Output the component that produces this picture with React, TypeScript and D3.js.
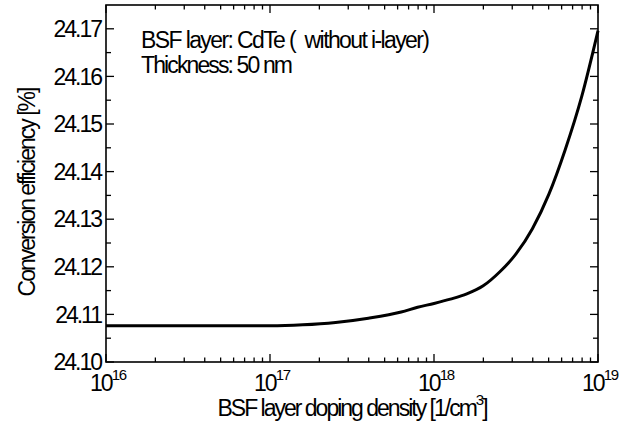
import React from 'react';
import * as d3 from 'd3';

const logDensity = [16, 16.5, 17, 17.2, 17.4, 17.6, 17.8, 17.9, 18.0, 18.1, 18.2, 18.3, 18.4, 18.5, 18.6, 18.7, 18.8, 18.9, 19.0];
const efficiency = [24.1076, 24.1076, 24.1076, 24.1078, 24.1083, 24.1092, 24.1105, 24.1115, 24.1123, 24.1132, 24.1143, 24.1160, 24.1189, 24.1227, 24.1280, 24.1352, 24.1446, 24.1557, 24.1696];
const yTicks = [24.10, 24.11, 24.12, 24.13, 24.14, 24.15, 24.16, 24.17];
const yMinor = [24.105, 24.115, 24.125, 24.135, 24.145, 24.155, 24.165];
const xDecades = [16, 17, 18, 19];
const annotation = ['BSF layer: CdTe (  without i-layer)', 'Thickness: 50 nm'];
const annotationWidths = [289, 152];

const W = 627, H = 427;
const L = 106, R = 598, T = 5, B = 362;
const FONT = "'Liberation Sans', Arial, sans-serif";

export default function App() {
  const x = d3.scaleLog().domain([1e16, 1e19]).range([L, R]);
  const y = d3.scaleLinear().domain([24.10, 24.175]).range([B, T]);
  const pts = logDensity.map((l, i) => [x(Math.pow(10, l)), y(efficiency[i])] as [number, number]);
  const path = d3.line().curve(d3.curveMonotoneX)(pts) || '';

  const xMinor: number[] = [];
  for (let d = 16; d < 19; d++) for (let m = 2; m <= 9; m++) xMinor.push(m * Math.pow(10, d));

  return (
    <svg width={W} height={H} style={{ position: 'absolute', left: 0, top: 0, background: '#fff' }} fontFamily={FONT}>
      <rect x={0} y={0} width={W} height={H} fill="#fff" />
      <g stroke="#000" strokeWidth={1.3}>
        {yTicks.map((t) => (
          <g key={'y' + t}>
            <line x1={L} x2={L + 8} y1={y(t)} y2={y(t)} />
            <line x1={R} x2={R - 8} y1={y(t)} y2={y(t)} />
          </g>
        ))}
        {yMinor.map((t) => (
          <g key={'ym' + t}>
            <line x1={L} x2={L + 5} y1={y(t)} y2={y(t)} />
            <line x1={R} x2={R - 5} y1={y(t)} y2={y(t)} />
          </g>
        ))}
        {xDecades.map((d) => (
          <g key={'x' + d}>
            <line x1={x(Math.pow(10, d))} x2={x(Math.pow(10, d))} y1={B} y2={B - 8} />
            <line x1={x(Math.pow(10, d))} x2={x(Math.pow(10, d))} y1={T} y2={T + 8} />
          </g>
        ))}
        {xMinor.map((v) => (
          <g key={'xm' + v}>
            <line x1={x(v)} x2={x(v)} y1={B} y2={B - 4.5} />
            <line x1={x(v)} x2={x(v)} y1={T} y2={T + 4.5} />
          </g>
        ))}
      </g>
      <rect x={L} y={T} width={R - L} height={B - T} fill="none" stroke="#000" strokeWidth={1.6} />
      <path d={path} fill="none" stroke="#000" strokeWidth={3} strokeLinejoin="round" />
      {yTicks.map((t) => (
        <text key={'yl' + t} x={101} y={y(t)} dy="0.36em" textAnchor="end" fontSize={23} letterSpacing={-2}>
          {t.toFixed(2)}
        </text>
      ))}
      {xDecades.map((d) => (
        <text key={'xl' + d} x={x(Math.pow(10, d)) + 2} y={391} textAnchor="middle" fontSize={23} letterSpacing={-2}>
          10<tspan fontSize={15} dy={-11} letterSpacing={-1.2}>{d}</tspan>
        </text>
      ))}
      <text x={(L + R) / 2} y={416} textAnchor="middle" fontSize={23} letterSpacing={-2}>
        BSF layer doping density [1/cm<tspan fontSize={15} dy={-11}>3</tspan><tspan dy={11}>]</tspan>
      </text>
      <text transform={`translate(35, ${(T + B) / 2 + 9}) rotate(-90)`} textAnchor="middle" fontSize={23} letterSpacing={-2}>
        Conversion efficiency [%]
      </text>
      {annotation.map((s, i) => (
        <text key={'a' + i} x={141} y={48 + i * 25} fontSize={23} textLength={annotationWidths[i]} lengthAdjust="spacing" style={{ whiteSpace: 'pre' }}>
          {s}
        </text>
      ))}
    </svg>
  );
}
